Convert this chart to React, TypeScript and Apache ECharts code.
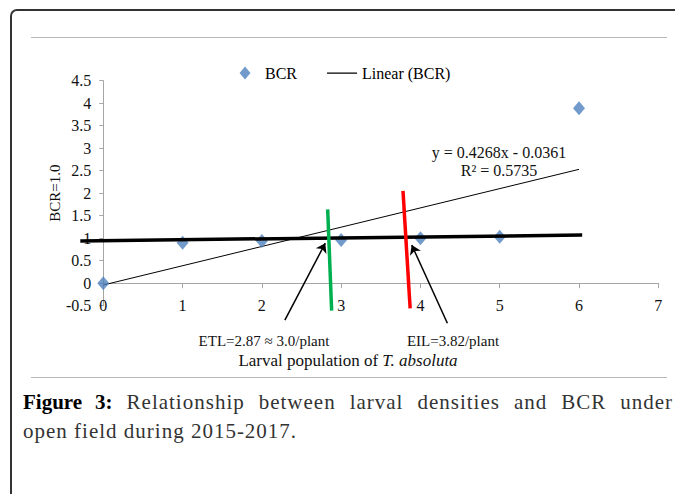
import React, { useEffect, useRef } from "react";
import * as echarts from "echarts";

// ---- data ----
const larvalX = [0, 1, 2, 3, 4, 5, 6];
const bcrValues = [0, 0.9, 0.94, 0.96, 1.0, 1.03, 3.89];
const trendX = [0, 6];
const trendY = [-0.04, 2.53];
const bcrOneLine = [[-0.29, 0.94], [6.04, 1.07]];
const etlLine = [[2.83, 1.64], [2.88, -0.61]];
const eilLine = [[3.78, 2.05], [3.87, -0.56]];
const etlArrow = [[2.29, -0.82], [2.8, 0.89]];
const eilArrow = [[4.34, -0.89], [3.89, 0.85]];
const yTickMin = -0.5;
const yTickMax = 4.5;
const yTickStep = 0.5;
const xTickMin = 0;
const xTickMax = 7;

const SERIF = "'Liberation Serif', 'Times New Roman', serif";

export default function App() {
  const ref = useRef<HTMLDivElement>(null);

  useEffect(() => {
    if (!ref.current) return;
    const chart = echarts.init(ref.current, null, { renderer: "svg" });
    const axisGray = "#a6a6a6";
    chart.setOption({
      animation: false,
      backgroundColor: "transparent",
      grid: {
        left: 103.3,
        right: 16.7,
        top: 80.7,
        bottom: 188.3,
        containLabel: false,
        outerBoundsMode: "none",
      },
      legend: {
        data: [
          {
            name: "BCR",
            icon: "path://M0,6.5L0.01,6.5M29.99,6.5L30,6.5M15,0L20.5,6.5L15,13L9.5,6.5Z",
          },
          {
            name: "Linear (BCR)",
            icon: "path://M0,0L0.01,0M0,13L0.01,13M0,6L30,6L30,7.2L0,7.2Z",
            itemStyle: { color: "#000" },
          },
        ],
        left: 225,
        top: 60,
        itemWidth: 30,
        itemHeight: 13,
        itemGap: 30,
        symbolKeepAspect: false,
        textStyle: { fontFamily: SERIF, fontSize: 16, color: "#000" },
      },
      xAxis: [
        {
          type: "value",
          min: xTickMin,
          max: xTickMax,
          interval: 1,
          splitLine: { show: false },
          axisLine: { onZero: true, lineStyle: { color: axisGray, width: 1 } },
          axisTick: { show: true, inside: false, length: 5, lineStyle: { color: axisGray } },
          axisLabel: { show: false },
        },
        {
          type: "value",
          position: "bottom",
          min: xTickMin,
          max: xTickMax,
          interval: 1,
          offset: -8,
          splitLine: { show: false },
          axisLine: { show: false, onZero: false },
          axisTick: { show: false },
          axisLabel: { fontFamily: SERIF, fontSize: 16, color: "#111", margin: 0 },
        },
      ],
      yAxis: {
        type: "value",
        min: yTickMin,
        max: yTickMax,
        interval: yTickStep,
        splitLine: { show: false },
        axisLine: { show: true, lineStyle: { color: axisGray, width: 1 } },
        axisTick: { show: true, inside: false, length: 4, lineStyle: { color: axisGray } },
        axisLabel: { fontFamily: SERIF, fontSize: 16, color: "#111", margin: 12 },
        name: "BCR=1.0",
        nameLocation: "middle",
        nameRotate: 90,
        nameGap: 41,
        nameMoveOverlap: false,
        nameTextStyle: { fontFamily: SERIF, fontSize: 15, color: "#111" },
      },
      series: [
        {
          name: "Linear (BCR)",
          type: "line",
          data: trendX.map((x, i) => [x, trendY[i]]),
          showSymbol: false,
          symbol: "none",
          lineStyle: { color: "#000", width: 1 },
          itemStyle: { color: "#000" },
          z: 2,
        },
        {
          name: "BCR",
          type: "scatter",
          data: larvalX.map((x, i) => [x, bcrValues[i]]),
          symbol: "diamond",
          symbolSize: [12, 14],
          itemStyle: { color: "#4f81bd" },
          z: 3,
        },
        {
          name: "bcr1",
          type: "lines",
          coordinateSystem: "cartesian2d",
          clip: false,
          data: [{ coords: bcrOneLine }],
          lineStyle: { color: "#000", width: 3.5, opacity: 1 },
          z: 4,
        },
        {
          name: "etl",
          type: "lines",
          coordinateSystem: "cartesian2d",
          clip: false,
          data: [{ coords: etlLine }],
          lineStyle: { color: "#00b050", width: 3.5, opacity: 1 },
          z: 5,
        },
        {
          name: "eil",
          type: "lines",
          coordinateSystem: "cartesian2d",
          clip: false,
          data: [{ coords: eilLine }],
          lineStyle: { color: "#ff0000", width: 3.5, opacity: 1 },
          z: 5,
        },
        {
          name: "arrows",
          type: "lines",
          coordinateSystem: "cartesian2d",
          clip: false,
          symbol: ["none", "arrow"],
          symbolSize: 9,
          data: [{ coords: etlArrow }, { coords: eilArrow }],
          lineStyle: { color: "#000", width: 1.5, opacity: 1 },
          z: 6,
        },
      ],
      graphic: [
        {
          type: "text",
          x: 499,
          y: 152,
          style: {
            text: "y = 0.4268x - 0.0361",
            align: "center",
            verticalAlign: "middle",
            fontFamily: SERIF,
            fontSize: 16,
            fill: "#111",
          },
        },
        {
          type: "text",
          x: 499,
          y: 170,
          style: {
            text: "R² = 0.5735",
            align: "center",
            verticalAlign: "middle",
            fontFamily: SERIF,
            fontSize: 16,
            fill: "#111",
          },
        },
        {
          type: "text",
          x: 264,
          y: 341,
          style: {
            text: "ETL=2.87 ≈ 3.0/plant",
            align: "center",
            verticalAlign: "middle",
            fontFamily: SERIF,
            fontSize: 15,
            fill: "#111",
          },
        },
        {
          type: "text",
          x: 453,
          y: 341,
          style: {
            text: "EIL=3.82/plant",
            align: "center",
            verticalAlign: "middle",
            fontFamily: SERIF,
            fontSize: 15,
            fill: "#111",
          },
        },
        {
          type: "text",
          x: 348,
          y: 360,
          style: {
            text: "{n|Larval population of }{i|T. absoluta}",
            align: "center",
            verticalAlign: "middle",
            fontFamily: SERIF,
            fontSize: 17,
            fill: "#111",
            rich: {
              n: { fontFamily: SERIF, fontSize: 17, fill: "#111" },
              i: { fontFamily: SERIF, fontSize: 17, fontStyle: "italic", fill: "#111" },
            },
          },
        },
      ],
    });
    return () => chart.dispose();
  }, []);

  return (
    <div
      style={{
        position: "fixed",
        left: 0,
        top: 0,
        width: 675,
        height: 494,
        overflow: "hidden",
        background: "#fff",
      }}
    >
      <div
        style={{
          position: "absolute",
          left: 10,
          top: 9,
          width: 740,
          height: 560,
          border: "2px solid #333",
          borderRadius: 7,
          boxSizing: "border-box",
        }}
      />
      <div
        style={{
          position: "absolute",
          left: 31,
          top: 37,
          width: 636,
          height: 0,
          borderTop: "1.5px solid #b8b8b8",
        }}
      />
      <div
        style={{
          position: "absolute",
          left: 31,
          top: 377,
          width: 636,
          height: 0,
          borderTop: "1.5px solid #b8b8b8",
        }}
      />
      <div
        ref={ref}
        style={{ position: "absolute", left: 0, top: 0, width: 675, height: 494 }}
      />
      <div
        style={{
          position: "absolute",
          left: 23,
          top: 388,
          width: 650,
          fontFamily: SERIF,
          fontSize: 21,
          lineHeight: "29px",
          color: "#333",
          letterSpacing: "1px",
        }}
      >
        <div style={{ textAlign: "justify", textAlignLast: "justify" }}>
          <b style={{ color: "#000", letterSpacing: "0px" }}>Figure 3:</b> Relationship between larval densities and BCR under
        </div>
        <div>open field during 2015-2017.</div>
      </div>
    </div>
  );
}
